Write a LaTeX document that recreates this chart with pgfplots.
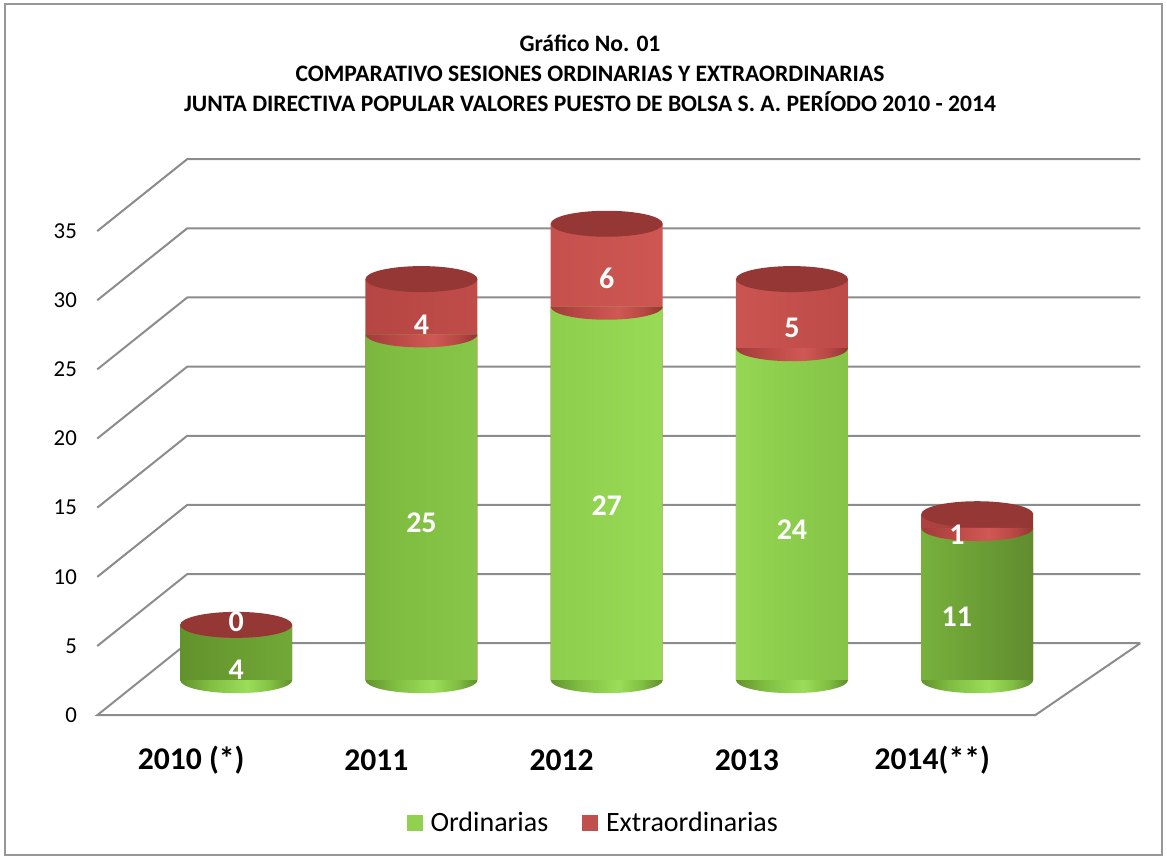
\documentclass[border=0pt]{standalone}
\usepackage{pgfplots}
\pgfplotsset{compat=1.18}
\usepackage{pgfplotstable}
\usepackage{fontspec}
\setmainfont{Carlito}

\definecolor{gL}{RGB}{98,146,44}
\definecolor{gML}{RGB}{128,190,66}
\definecolor{gM}{RGB}{155,221,88}
\definecolor{gR}{RGB}{96,140,46}
\definecolor{rL}{RGB}{160,60,58}
\definecolor{rML}{RGB}{185,72,69}
\definecolor{rM}{RGB}{208,88,84}
\definecolor{rR}{RGB}{146,54,52}
\definecolor{topred}{RGB}{148,55,53}
\definecolor{gridgray}{RGB}{140,140,140}
\definecolor{legGreen}{RGB}{146,208,80}
\definecolor{legRed}{RGB}{192,80,77}

\pgfdeclarehorizontalshading{greencyl}{100bp}{color(0bp)=(gL); color(25bp)=(gL); color(38bp)=(gML); color(55bp)=(gM); color(66bp)=(gML); color(75bp)=(gR); color(100bp)=(gR)}
\pgfdeclarehorizontalshading{redcyl}{100bp}{color(0bp)=(rL); color(25bp)=(rL); color(38bp)=(rML); color(55bp)=(rM); color(66bp)=(rML); color(75bp)=(rR); color(100bp)=(rR)}

\pgfdeclareplotmark{ghalf}{%
  \pgfpathmoveto{\pgfqpoint{-\pgfplotmarksize}{0pt}}%
  \pgfpatharc{180}{360}{\pgfplotmarksize and 0.232\pgfplotmarksize}%
  \pgfpathclose
  \pgfshadepath{greencyl}{0}%
  \pgfusepath{}}
\pgfdeclareplotmark{rhalf}{%
  \pgfpathmoveto{\pgfqpoint{-\pgfplotmarksize}{0pt}}%
  \pgfpatharc{180}{360}{\pgfplotmarksize and 0.232\pgfplotmarksize}%
  \pgfpathclose
  \pgfshadepath{redcyl}{0}%
  \pgfusepath{}}
\pgfdeclareplotmark{topell}{%
  \pgfpathellipse{\pgfpointorigin}{\pgfqpoint{\pgfplotmarksize}{0pt}}{\pgfqpoint{0pt}{0.232\pgfplotmarksize}}%
  \pgfusepathqfill}

% x: category, g: Ordinarias, e: Extraordinarias, t: total
% lx, gy, ey: label positions
\pgfplotstableread{
x g e t lx gy ey
0 4 0 4 0 0.72 4.2
1 25 4 29 1 11.4 25.7
2 27 6 33 2 12.6 29.05
3 24 5 29 3 10.9 25.5
4 11 1 12 3.89 4.55 10.5
}\datatable

\begin{document}
\begin{tikzpicture}[x=1pt,y=1pt]
\path[use as bounding box] (0,0) rectangle (583.5,429.5);
\draw[color=gridgray!90, line width=1pt] (2.5,2) rectangle (581,427.5);
\node[font=\bfseries\fontsize{11.8}{15}\selectfont, align=center] at (295,393)
  {Gráfico No. 01\\COMPARATIVO SESIONES ORDINARIAS Y EXTRAORDINARIAS\\JUNTA DIRECTIVA POPULAR VALORES PUESTO DE BOLSA S. A. PERÍODO 2010 - 2014};
\begin{axis}[
  at={(52.5,104)}, anchor=south west,
  scale only axis, width=521.5pt, height=278pt,
  xmin=-0.75, xmax=4.88, ymin=-2.53, ymax=37.67,
  clip=false,
  axis line style={draw=none},
  major tick length=0pt,
  ytick={-2.53,2.47,7.47,12.47,17.47,22.47,27.47,32.47},
  yticklabels={0,5,10,15,20,25,30,35},
  yticklabel style={inner sep=0pt, xshift=-10pt, font=\fontsize{11.4}{13}\selectfont},
  xtick={-0.243,0.757,1.757,2.757,3.757},
  xticklabels={2010 (*),2011,2012,2013,2014(**)},
  xticklabel style={inner sep=0pt, anchor=center, yshift=-22.5pt, font=\bfseries\fontsize{15.8}{18}\selectfont},
  /pgf/number format/assume math mode=true,
  legend style={at={(0.4756,-0.194)}, anchor=center, draw=none, fill=none,
    legend columns=2, font=\fontsize{14}{16}\selectfont,
    /tikz/every odd column/.append style={column sep=3pt},
    /tikz/every even column/.append style={column sep=16pt},
    nodes={inner sep=1pt}},
  legend image code/.code={\fill[#1] (0pt,-3.75pt) rectangle (7.5pt,3.75pt);},
]
% walls and floor
\addplot[gridgray, line width=1pt, forget plot, unbounded coords=jump] coordinates {
 (4.88,2.67) (-0.2645,2.67) (-0.75,-2.53) (4.313,-2.53) (4.88,2.67) (nan,nan)
 (-0.75,2.47) (-0.2645,7.67) (4.88,7.67) (nan,nan)
 (-0.75,7.47) (-0.2645,12.67) (4.88,12.67) (nan,nan)
 (-0.75,12.47) (-0.2645,17.67) (4.88,17.67) (nan,nan)
 (-0.75,17.47) (-0.2645,22.67) (4.88,22.67) (nan,nan)
 (-0.75,22.47) (-0.2645,27.67) (4.88,27.67) (nan,nan)
 (-0.75,27.47) (-0.2645,32.67) (4.88,32.67) (nan,nan)
 (-0.75,32.47) (-0.2645,37.67) (4.88,37.67)
};
% bottom of cylinders
\addplot[only marks, mark=ghalf, mark size=28pt, forget plot] table[x=x, y expr=0] {\datatable};
% total (red) bars
\addplot[ybar, bar width=56pt, bar shift=0pt, draw=none, shade, shading=redcyl, forget plot] table[x=x, y=t] {\datatable};
% green bars
\addplot[ybar, bar width=56pt, bar shift=0pt, draw=none, shade, shading=greencyl, forget plot] table[x=x, y=g] {\datatable};
% boundary curve
\addplot[only marks, mark=rhalf, mark size=28pt, forget plot] table[x=x, y=g] {\datatable};
% tops
\addplot[only marks, mark=topell, mark size=28pt, mark options={fill=topred, draw=none}, forget plot] table[x=x, y=t] {\datatable};
% labels
\addplot[draw=none, mark=none, forget plot, nodes near coords, point meta=explicit symbolic,
  every node near coord/.append style={anchor=center, text=white, font=\bfseries\fontsize{15}{17}\selectfont}]
  table[x=lx, y=gy, meta=g] {\datatable};
\addplot[draw=none, mark=none, forget plot, nodes near coords, point meta=explicit symbolic,
  every node near coord/.append style={anchor=center, text=white, font=\bfseries\fontsize{15}{17}\selectfont}]
  table[x=lx, y=ey, meta=e] {\datatable};
\addlegendimage{legGreen}
\addlegendentry{Ordinarias}
\addlegendimage{legRed}
\addlegendentry{Extraordinarias}
\end{axis}
\end{tikzpicture}
\end{document}
